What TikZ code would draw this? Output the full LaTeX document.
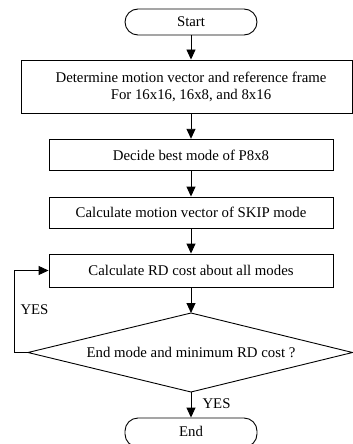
\documentclass[tikz,border=0pt]{standalone}
\usepackage{fontspec}
\setmainfont{Liberation Serif}
\usetikzlibrary{arrows.meta}
\begin{document}
\begin{tikzpicture}[x=1pt,y=-1pt,
  every node/.style={font=\fontsize{14.8}{17}\selectfont, inner sep=0pt},
  procbox/.style={draw, line width=0.9pt, minimum width=284pt},
  term/.style={draw, line width=0.9pt, rounded corners=13pt, minimum width=132pt, minimum height=26pt},
  arr/.style={line width=0.9pt, -{Triangle[length=10pt,width=9pt]}},
  plain/.style={line width=0.9pt}]
\useasboundingbox (0,0) rectangle (353,444);
\node[term] (start) at (191,22) {Start};
\node[procbox, minimum width=331.5pt, minimum height=53pt] (b1) at (187,86.5) {};
\node[align=center] (b1t) at (191,87) {Determine motion vector and reference frame\\For 16x16, 16x8, and 8x16};
\node[procbox, minimum height=31.5pt] (b2) at (191,155) {Decide best mode of P8x8};
\node[procbox, minimum height=31pt] (b3) at (191,212.5) {Calculate motion vector of SKIP mode};
\node[procbox, minimum height=33pt] (b4) at (191,270.5) {Calculate RD cost about all modes};
\coordinate (dt) at (191,313);
\coordinate (db) at (191,392);
\coordinate (dl) at (28,352.5);
\coordinate (dr) at (352.5,352.5);
\draw[plain, line join=miter] (dt) -- (dr) -- (db) -- (dl) -- cycle;
\node (dec) at (191,352) {End mode and minimum RD cost ?};
\node[term, minimum height=29pt] (end) at (191,432.5) {};
\node (endt) at (191,431) {End};
\coordinate (lp) at (14,352.5);
\draw[arr] (start.south) -- (start.south |- b1.north);
\draw[arr] (b2.north |- b1.south) -- (b2.north);
\draw[arr] (b2) -- (b3);
\draw[arr] (b3) -- (b4);
\draw[arr] (b4) -- (dt);
\draw[arr] (db) -- (end.north);
\draw[plain] (dl) -- (lp);
\draw[arr] (lp) |- (b4.west);
\node (yes1) at (34.5,310) {YES};
\node (yes2) at (216.5,404) {YES};
\end{tikzpicture}
\end{document}
